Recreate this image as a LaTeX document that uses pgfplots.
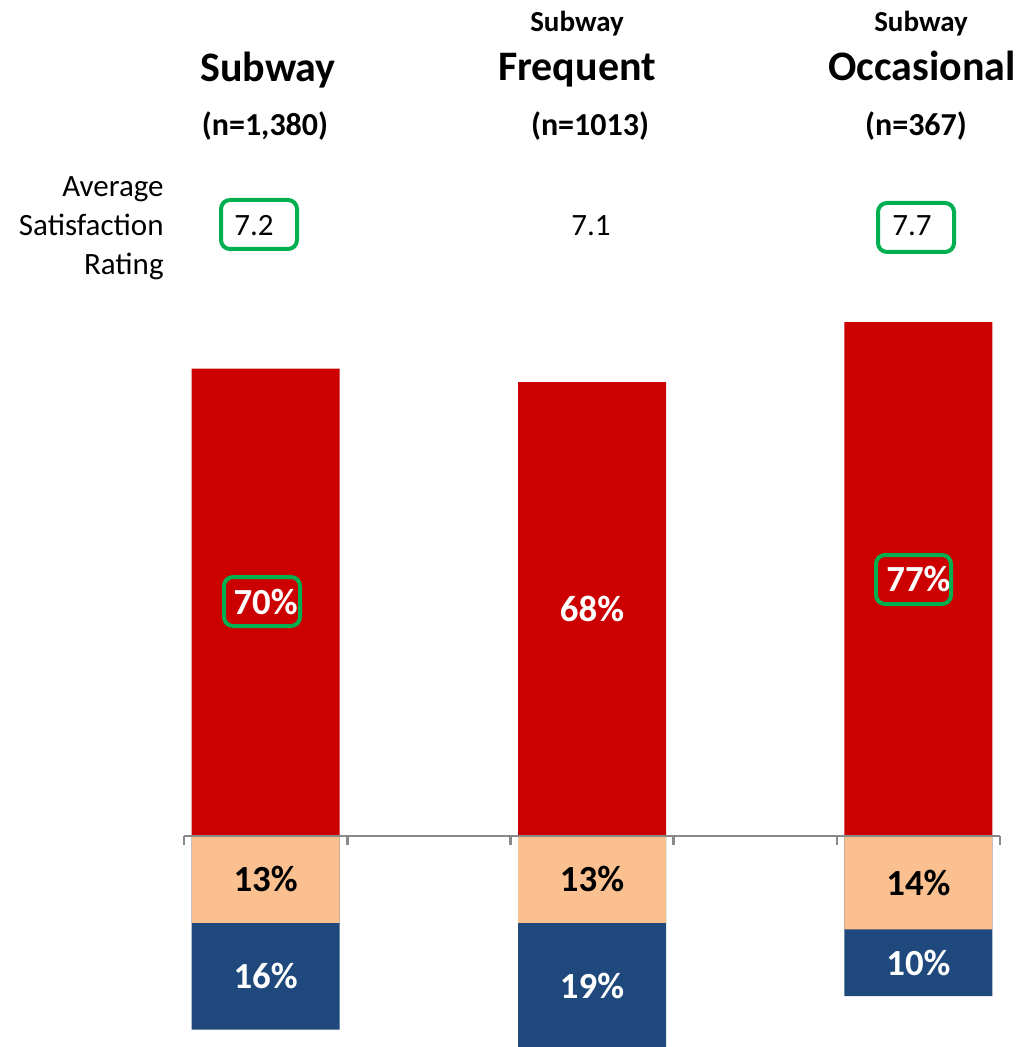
\documentclass[border=0pt]{standalone}
\usepackage{pgfplots}
\pgfplotsset{compat=1.18}
\usepackage{fontspec}
\setmainfont{Carlito}
\definecolor{barred}{HTML}{CC0000}
\definecolor{barpeach}{HTML}{FAC090}
\definecolor{barblue}{HTML}{1F497D}
\definecolor{boxgreen}{HTML}{00B050}
\definecolor{axgray}{HTML}{898989}
\begin{document}
\begin{tikzpicture}[x=0.5pt,y=-0.5pt]
\useasboundingbox (0,0) rectangle (1019,1047);
\begin{axis}[
  at={(0,0)}, anchor=north west,
  width=509.5pt, height=523.5pt, scale only axis,
  xmin=-1.1275, xmax=5.1164, ymin=-31.61, ymax=125.24,
  axis lines=none, ticks=none,
]
% blue (cumulative below baseline: peach + blue)
\addplot[ybar, bar width=0.907, bar shift=0pt, fill=barblue, draw=none] coordinates {(0.5,-29) (2.5,-32) (4.5,-24)};
% peach
\addplot[ybar, bar width=0.907, bar shift=0pt, fill=barpeach, draw=none] coordinates {(0.5,-13) (2.5,-13) (4.5,-14)};
% red
\addplot[ybar, bar width=0.907, bar shift=0pt, fill=barred, draw=none] coordinates {(0.5,70) (2.5,68) (4.5,77)};
% baseline and ticks
\addplot[sharp plot, axgray, line width=1.3pt, mark=none] coordinates {(0,0) (5,0)};
\addplot[ycomb, axgray, line width=1.3pt, mark=none] coordinates {(0,-1.35) (1,-1.35) (2,-1.35) (3,-1.35) (4,-1.35) (5,-1.35)};
% labels
\addplot[draw=none, mark=none, nodes near coords={\pgfplotspointmeta\%}, point meta=explicit symbolic,
  nodes near coords style={anchor=center, inner sep=0pt, text=white, font=\fontsize{18.4}{22}\selectfont\bfseries}]
  table[meta=m] {
x y m
0.5 35 70
2.5 34 68
4.5 38.5 77
};
\addplot[draw=none, mark=none, nodes near coords={\pgfplotspointmeta\%}, point meta=explicit symbolic,
  nodes near coords style={anchor=center, inner sep=0pt, text=black, font=\fontsize{18.4}{22}\selectfont\bfseries}]
  table[meta=m] {
x y m
0.5 -6.5 13
2.5 -6.5 13
4.5 -7 14
};
\addplot[draw=none, mark=none, nodes near coords={\pgfplotspointmeta\%}, point meta=explicit symbolic,
  nodes near coords style={anchor=center, inner sep=0pt, text=white, font=\fontsize{18.4}{22}\selectfont\bfseries}]
  table[meta=m] {
x y m
0.5 -21 16
2.5 -22.5 19
4.5 -19 10
};
\end{axis}
% headers
\begin{scope}[every node/.style={inner sep=0pt, anchor=base}]
\node[font=\fontsize{21}{25}\selectfont\bfseries] at (268,82) {Subway};
\node[font=\fontsize{16}{19}\selectfont\bfseries] at (265,136) {(n=1,380)};
\node[font=\fontsize{14.5}{17}\selectfont\bfseries] at (577,32) {Subway};
\node[font=\fontsize{21}{25}\selectfont\bfseries] at (577,81) {Frequent};
\node[font=\fontsize{16}{19}\selectfont\bfseries] at (590,136) {(n=1013)};
\node[font=\fontsize{14.5}{17}\selectfont\bfseries] at (921,32) {Subway};
\node[font=\fontsize{21}{25}\selectfont\bfseries] at (922,81) {Occasional};
\node[font=\fontsize{16}{19}\selectfont\bfseries] at (916,136) {(n=367)};
\node[font=\fontsize{15.5}{19}\selectfont, anchor=base east] at (164,197) {Average};
\node[font=\fontsize{15.5}{19}\selectfont, anchor=base east] at (164,236) {Satisfaction};
\node[font=\fontsize{15.5}{19}\selectfont, anchor=base east] at (164,275) {Rating};
\node[font=\fontsize{15.5}{19}\selectfont] at (254,236) {7.2};
\node[font=\fontsize{15.5}{19}\selectfont] at (591,236) {7.1};
\node[font=\fontsize{15.5}{19}\selectfont] at (912,236) {7.7};
\end{scope}
\draw[boxgreen, line width=2pt, rounded corners=4.5pt] (221,200) rectangle (297,249);
\draw[boxgreen, line width=2pt, rounded corners=4.5pt] (878,203) rectangle (954,252);
\draw[boxgreen, line width=2pt, rounded corners=4.5pt] (224,577) rectangle (300,626);
\draw[boxgreen, line width=2pt, rounded corners=4.5pt] (876,555) rectangle (951,604);
\end{tikzpicture}
\end{document}
